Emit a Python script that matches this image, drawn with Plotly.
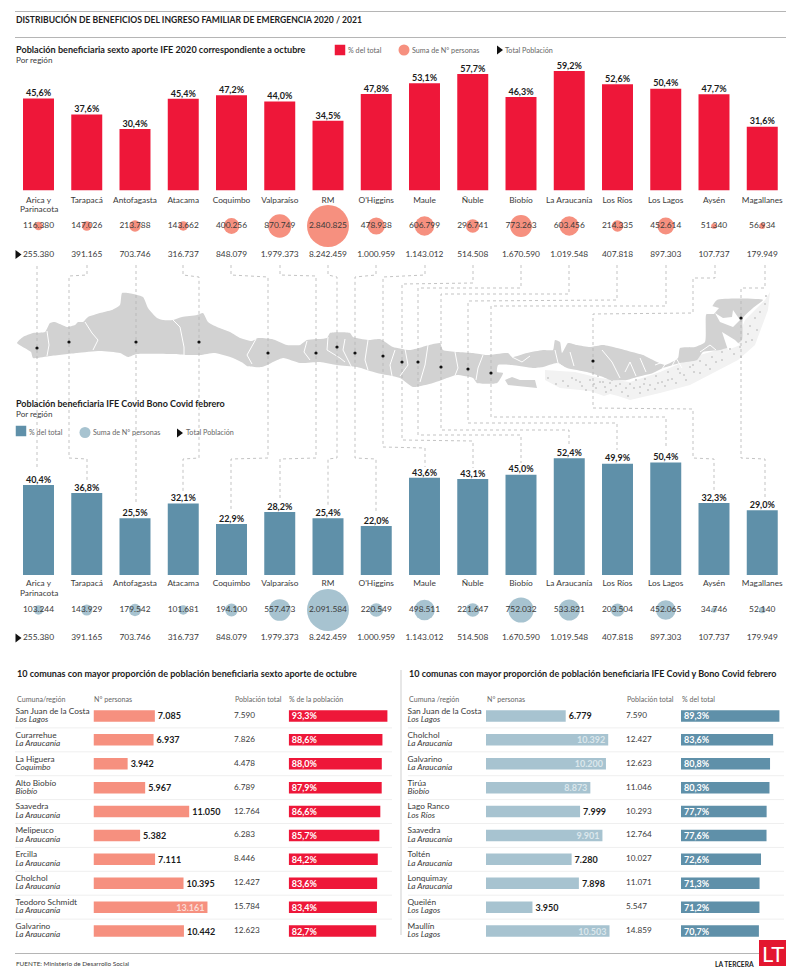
import plotly.graph_objects as go

W, H = 800, 979
# ---------- DATA ----------
regions = ["Arica y Parinacota","Tarapacá","Antofagasta","Atacama","Coquimbo","Valparaíso","RM","O'Higgins",
           "Maule","Ñuble","Biobío","La Araucanía","Los Ríos","Los Lagos","Aysén","Magallanes"]
tick_regions = ["Arica y"] + regions[1:]
total_pop = [255380,391165,703746,316737,848079,1979373,8242459,1000959,1143012,514508,1670590,1019548,407818,897303,107737,179949]
pct_ife = [45.6,37.6,30.4,45.4,47.2,44.0,34.5,47.8,53.1,57.7,46.3,59.2,52.6,50.4,47.7,31.6]
pers_ife = [116380,147026,213788,143662,400256,870749,2840825,478938,606799,296741,773263,603456,214335,452614,51340,56934]
pct_bono = [40.4,36.8,25.5,32.1,22.9,28.2,25.4,22.0,43.6,43.1,45.0,52.4,49.9,50.4,32.3,29.0]
pers_bono = [103244,143929,179542,101681,194100,557473,2091584,220549,498511,221647,752032,533821,203504,452065,34746,52140]

com_l = ["San Juan de la Costa","Curarrehue","La Higuera","Alto Biobío","Saavedra","Melipeuco","Ercilla","Cholchol","Teodoro Schmidt","Galvarino"]
reg_l = ["Los Lagos","La Araucanía","Coquimbo","Biobío","La Araucanía","La Araucanía","La Araucanía","La Araucanía","La Araucanía","La Araucanía"]
per_l = [7085,6937,3942,5967,11050,5382,7111,10395,13161,10442]
tot_l = [7590,7826,4478,6789,12764,6283,8446,12427,15784,12623]
pct_l = [93.3,88.6,88.0,87.9,86.6,85.7,84.2,83.6,83.4,82.7]

com_r = ["San Juan de la Costa","Cholchol","Galvarino","Tirúa","Lago Ranco","Saavedra","Toltén","Lonquimay","Queilén","Maullín"]
reg_r = ["Los Lagos","La Araucanía","La Araucanía","Biobío","Los Ríos","La Araucanía","La Araucanía","La Araucanía","Los Lagos","Los Lagos"]
per_r = [6779,10392,10200,8873,7999,9901,7280,7898,3950,10503]
tot_r = [7590,12427,12623,11046,10293,12764,10027,11071,5547,14859]
pct_r = [89.3,83.6,80.8,80.3,77.7,77.6,72.6,71.3,71.2,70.7]

# ---------- STYLE ----------
FONT = "Lato"
RED, SALMON, STEEL, LBLUE = "#ee1739", "#f6907f", "#5f90a9", "#a7c3d0"
INK, GREY, SOFT = "#1c1c1c", "#3a3a3a", "#666666"
ROWS = ["Suma de N° personas", "Total Población"]

def dots(v): return f"{v:,}".replace(",", ".")
def comma(v): return f"{v:.1f}".replace(".", ",") + "%"
def ydom(top, bottom): return [1 - bottom / H, 1 - top / H]
def xdom(a, b): return [a / W, b / W]

hidden = dict(visible=False, fixedrange=True)
fig = go.Figure()
shapes, notes = [], []

def txt(x, y, s, size=9, color=GREY, bold=False, italic=False, anchor="left"):
    notes.append(dict(x=x, y=y, xref="x", yref="y", text=s, showarrow=False, xanchor=anchor, yanchor="middle",
                      borderpad=0, font=dict(family=FONT, size=size, color=color,
                                             weight=700 if bold else 400, style="italic" if italic else "normal")))

# ---------- MAP (decor, page pixels) ----------
land = [(17,343),(23,337),(33,333),(45,332),(50,323),(55,322),(62,325),(67,327),(75,325),(78,322),(83,322),(88,317),
        (100,313),(112,310),(120,305),(122,293),(128,293),(143,297),(148,308),(157,318),(163,320),(173,320),(182,317),
        (197,315),(203,313),(208,322),(217,327),(230,332),(240,338),(252,341),(258,338),(272,339),(287,345),(300,345),
        (307,340),(327,338),(330,333),(350,333),(353,337),(368,340),(380,339),(393,347),(410,350),(433,344),(440,343),
        (443,350),(457,352),(473,353),(487,355),(508,353),(512,357),(527,353),(543,350),(553,350),(555,340),(560,342),
        (562,353),(568,343),(577,345),(590,347),(603,345),(617,348),(632,352),(643,355),(653,360),(665,365),(678,358),
        (680,348),(695,347),(705,342),(706,315),(710,310),(717,300),(763,300),(753,308),(743,318),(742,340),(735,345),
        (720,350),(703,352),(697,360),(680,363),(663,368),(653,373),(637,377),(627,380),(610,380),(603,377),(587,372),
        (567,368),(557,363),(543,367),(533,368),(512,365),(498,365),(497,372),(503,373),(497,383),(477,383),(473,378),
        (457,375),(450,377),(433,383),(413,387),(400,378),(377,373),(357,367),(337,365),(320,362),(300,363),(283,358),
        (262,367),(247,366),(243,363),(233,358),(215,353),(200,355),(187,355),(173,354),(137,354),(128,357),(120,353),
        (100,351),(77,353),(50,356),(33,358),(31,352),(17,343)]
chiloe = [(505,380),(512,377),(520,380),(535,380),(537,388),(520,386),(508,385),(505,380)]
band = [(545,370),(575,372),(600,378),(630,382),(660,372),(700,355),(735,345),(745,320),(765,300),(770,292),(768,310),
        (755,345),(738,360),(715,372),(690,385),(660,393),(630,400),(618,396),(610,394),(604,396),(590,391),(560,388),(545,380),(545,370)]
inlets = [[(715,313),(720,322),(733,327),(740,320),(733,310),(732,317),(723,318),(715,313)],
          [(722,332),(735,340),(740,345),(728,350),(725,341),(722,332)],
          [(706,314),(712,306),(719,308),(714,314),(706,314)]]
borders = [[(47,331),(49,345),(47,356)],[(85,322),(92,333),(98,340),(93,350)],[(173,320),(180,327),(184,347),(184,355)],
           [(256,339),(250,350),(247,355),(252,364)],[(307,341),(304,352),(310,360)],[(328,337),(327,350),(340,358),(345,362)],
           [(345,339),(343,350),(347,358),(352,368)],[(368,340),(365,360),(368,370)],[(395,350),(390,365),(392,376)],
           [(405,349),(408,365),(400,376)],[(428,345),(425,365),(420,382)],[(455,352),(458,368),(454,378)],
           [(483,355),(478,368),(476,380)],[(555,350),(558,363),(565,368)],[(602,350),(612,362),(620,378)],
           [(570,352),(574,366)],[(640,358),(646,372)],[(655,365),(668,360),(660,372)],[(700,352),(710,345),(716,350)],
           [(512,357),(522,362),(530,356)],[(625,372),(630,362),(636,376)],[(672,366),(676,358),(682,368)]]
specks = [(548,378),(556,384),(563,381),(568,386),(576,380),(582,386),(590,380),(596,388),(586,390),(594,384),(600,382),
          (605,387),(610,383),(606,392),(611,390),(612,380),(616,386),(622,392),(618,379),(626,388),(630,384),(636,380),
          (640,387),(645,379),(650,385),(656,376),(662,382),(668,372),(672,379),(678,369),(684,375),(690,367),(694,372),
          (700,361),(706,365),(712,357),(716,362),(722,352),(730,349),(734,354),(740,347),(746,342),(741,357),(748,334),
          (750,326),(755,318),(760,312),(765,304),(766,296),(757,330),(752,340),(655,389),(665,386),(676,383),(686,380),
          (640,393),(648,390),(628,396),(710,369),(722,360),(700,373),(603,382),(620,384),(634,388),(658,383),(680,373),
          (693,365),(572,378),(580,382),(598,376),(644,384),(668,380)]
fig.add_trace(go.Scatter(x=[p[0] for p in band], y=[p[1] for p in band], mode="lines", fill="toself",
                         fillcolor="#f2f2f2", line=dict(width=0), hoverinfo="skip", showlegend=False))
fig.add_trace(go.Scatter(x=[p[0] for p in land], y=[p[1] for p in land], mode="lines", fill="toself",
                         fillcolor="#d2d2d2", line=dict(width=0, shape="spline", smoothing=0.5), hoverinfo="skip", showlegend=False))
fig.add_trace(go.Scatter(x=[p[0] for p in chiloe], y=[p[1] for p in chiloe], mode="lines", fill="toself",
                         fillcolor="#d2d2d2", line=dict(width=0), hoverinfo="skip", showlegend=False))
for poly in inlets:
    fig.add_trace(go.Scatter(x=[p[0] for p in poly], y=[p[1] for p in poly], mode="lines", fill="toself",
                             fillcolor="white", line=dict(width=0), hoverinfo="skip", showlegend=False))
bx, by = [], []
for b in borders:
    bx += [p[0] for p in b] + [None]; by += [p[1] for p in b] + [None]
fig.add_trace(go.Scatter(x=bx, y=by, mode="lines", line=dict(color="white", width=1), hoverinfo="skip", showlegend=False))
fig.add_trace(go.Scatter(x=[p[0] for p in specks], y=[p[1] for p in specks], mode="markers",
                         marker=dict(symbol="square", size=2, color="#d4d4d4"), hoverinfo="skip", showlegend=False))

# connectors
conn = [[(37,266),(37,470)],
        [(87,265),(87,275),(69,276),(69,458),(87,459),(87,480)],
        [(136,265),(136,505)],
        [(183,265),(183,275),(199,277),(199,458),(183,459),(183,492)],
        [(231,265),(231,275),(268,277),(268,458),(231,459),(231,512)],
        [(280,265),(280,275),(316,276),(316,458),(280,459),(280,500)],
        [(328,265),(328,275),(337,277),(337,458),(328,459),(328,506)],
        [(376,265),(376,275),(355,277),(355,458),(376,459),(376,513)],
        [(425,265),(425,275),(383,277),(383,447),(425,448),(425,467)],
        [(473,265),(473,283),(402,284),(402,440),(473,441),(473,468)],
        [(521,265),(521,288),(418,288),(418,435),(521,435),(521,463)],
        [(569,265),(569,294),(441,294),(441,430),(569,430),(569,445)],
        [(617,265),(617,300),(468,301),(468,423),(617,423),(617,450)],
        [(666,265),(666,306),(491,306),(491,417),(666,417),(666,448)],
        [(715,265),(715,278),(693,278),(693,313),(593,314),(593,408),(693,409),(693,458),(714,459),(714,492)],
        [(765,265),(765,288),(741,288),(741,458),(765,459),(765,497)]]
cx, cy = [], []
for c in conn:
    cx += [p[0] for p in c] + [None]; cy += [p[1] for p in c] + [None]
fig.add_trace(go.Scatter(x=cx, y=cy, mode="lines", line=dict(color="#b4b4b4", width=0.8, dash="dot"),
                         hoverinfo="skip", showlegend=False))
map_dots = [(37,348),(69,342),(136,342),(199,342),(268,353),(316,353),(337,347),(355,353),(383,356),(402,362),(418,362),
            (441,367),(468,369),(491,373),(593,361),(741,318)]
fig.add_trace(go.Scatter(x=[p[0] for p in map_dots], y=[p[1] for p in map_dots], mode="markers",
                         marker=dict(size=3.2, color="#111"), hoverinfo="skip", showlegend=False))

# ---------- REGION BARS ----------
for ax, pct, col in [("2", pct_ife, RED), ("3", pct_bono, STEEL)]:
    fig.add_trace(go.Bar(x=regions, y=pct, xaxis="x" + ax, yaxis="y" + ax, marker=dict(color=col, line=dict(width=0)),
                         width=0.642, hoverinfo="skip", showlegend=False))
    fig.add_trace(go.Scatter(x=regions, y=pct, xaxis="x" + ax, yaxis="y" + ax, mode="text", text=[comma(v) for v in pct],
                             textposition="top center", cliponaxis=False,
                             textfont=dict(family=FONT, size=9, color=INK, weight=700), hoverinfo="skip", showlegend=False))

# ---------- BUBBLE AND TOTAL ROWS ----------
ROWFONT = dict(family=FONT, size=8.4, color=GREY)
for ax, yax, pers, col in [("2", "4", pers_ife, SALMON), ("3", "5", pers_bono, LBLUE)]:
    fig.add_trace(go.Scatter(x=regions, y=[ROWS[0]] * 16, xaxis="x" + ax, yaxis="y" + yax, mode="markers+text",
                             marker=dict(size=pers, sizemode="area", sizeref=2 * max(pers) / 42 ** 2, sizemin=1.5, color=col, line=dict(width=0), opacity=1),
                             text=[dots(v) for v in pers], textposition="middle center", cliponaxis=False,
                             textfont=ROWFONT, hoverinfo="skip", showlegend=False))
    fig.add_trace(go.Scatter(x=regions, y=[ROWS[1]] * 16, xaxis="x" + ax, yaxis="y" + yax, mode="text",
                             text=[dots(v) for v in total_pop], textposition="middle center", cliponaxis=False,
                             textfont=ROWFONT, hoverinfo="skip", showlegend=False))

# ---------- COMMUNE TABLES ----------
NAMEFONT = dict(family=FONT, size=8.3, color=GREY)
def table(lab_x, per_x, pct_x, yax, comunas, regs, pers, tots, pcts, c_per, c_pct, c_in, x_name, x_tot):
    fig.add_trace(go.Scatter(x=[x_name] * 10, y=comunas, xaxis=lab_x, yaxis=yax, mode="text", text=comunas,
                             textposition="top right", cliponaxis=False, textfont=NAMEFONT,
                             hoverinfo="skip", showlegend=False))
    fig.add_trace(go.Scatter(x=[x_name] * 10, y=comunas, xaxis=lab_x, yaxis=yax, mode="text", text=[f"<i>{r}</i>" for r in regs],
                             textposition="bottom right", cliponaxis=False, textfont=NAMEFONT,
                             hoverinfo="skip", showlegend=False))
    fig.add_trace(go.Scatter(x=[x_tot] * 10, y=comunas, xaxis=lab_x, yaxis=yax, mode="text", text=[dots(v) for v in tots],
                             textposition="middle right", cliponaxis=False, textfont=dict(family=FONT, size=8.2, color=GREY),
                             hoverinfo="skip", showlegend=False))
    inside = [p > c_in[1] for p in pers]
    fig.add_trace(go.Bar(x=pers, y=comunas, orientation="h", xaxis=per_x, yaxis=yax, width=0.48, marker=dict(color=c_per, line=dict(width=0)),
                         text=[dots(v) for v in pers], textposition=["inside" if i else "outside" for i in inside],
                         insidetextanchor="end", textangle=0, cliponaxis=False,
                         insidetextfont=dict(family=FONT, size=9, color=c_in[0], weight=700),
                         outsidetextfont=dict(family=FONT, size=9, color=INK, weight=700),
                         hoverinfo="skip", showlegend=False))
    fig.add_trace(go.Bar(x=pcts, y=comunas, orientation="h", xaxis=pct_x, yaxis=yax, width=0.48, marker=dict(color=c_pct, line=dict(width=0)),
                         text=[comma(v) for v in pcts], textposition="inside", insidetextanchor="start", textangle=0,
                         insidetextfont=dict(family=FONT, size=9, color="#ffffff", weight=700),
                         hoverinfo="skip", showlegend=False))

table("x4", "x5", "x6", "y6", com_l, reg_l, per_l, tot_l, pct_l, SALMON, RED, ("#fbdcd6", 12000), 15.5, 234)
table("x7", "x8", "x9", "y7", com_r, reg_r, per_r, tot_r, pct_r, LBLUE, STEEL, ("#dbe7ec", 8500), 407.5, 626)

# ---------- LEGENDS ----------
leg = dict(hoverinfo="skip", showlegend=False, mode="markers")
fig.add_trace(go.Scatter(x=[340, 21], y=[50, 431], marker=dict(symbol="square", size=10.5, color=[RED, STEEL]), **leg))
fig.add_trace(go.Scatter(x=[404, 85], y=[50, 432.5], marker=dict(size=11, color=[SALMON, LBLUE]), **leg))
fig.add_trace(go.Scatter(x=[499, 179, 17.5, 17.5], y=[50, 433, 254.5, 638], marker=dict(symbol="triangle-right", size=8, color="#111"), **leg))
for x, y, s in [(347,50,"% del total"),(411,50,"Suma de N° personas"),(504,50,"Total Población"),
                (28,432.5,"% del total"),(92,432.5,"Suma de N° personas"),(185,432.5,"Total Población")]:
    txt(x, y, s, size=7.2, color=SOFT)

# ---------- TITLES AND TEXT ----------
txt(15, 19.5, "DISTRIBUCIÓN DE BENEFICIOS DEL INGRESO FAMILIAR DE EMERGENCIA 2020 / 2021", size=8.6, color=INK, bold=True)
txt(15, 49.5, "Población beneficiaria sexto aporte IFE 2020 correspondiente a octubre", size=9.1, color=INK, bold=True)
txt(15, 60, "Por región", size=8.1)
txt(15, 403.5, "Población beneficiaria IFE Covid Bono Covid febrero", size=9, color=INK, bold=True)
txt(15, 414, "Por región", size=8.1)
txt(38.5, 209, "Parinacota", size=8.3, anchor="center")
txt(38.5, 592.5, "Parinacota", size=8.3, anchor="center")
txt(16, 673, "10 comunas con mayor proporción de población beneficiaria sexto aporte de octubre", size=9.05, color=INK, bold=True)
txt(408, 673, "10 comunas con mayor proporción de población beneficiaria IFE Covid y Bono Covid febrero", size=9, color=INK, bold=True)
for x, s in [(16,"Cumuna/región"),(93,"N° personas"),(234,"Población total"),(288,"% de la población"),
             (408,"Cumuna /región"),(486,"N° personas"),(626,"Población total"),(681,"% del total")]:
    txt(x, 699, s, size=7.1, color=SOFT)
txt(15, 963.5, "FUENTE: Ministerio de Desarrollo Social", size=6.4)
txt(755, 964, "LA TERCERA", size=6.7, color=INK, bold=True, anchor="right")
txt(772.5, 953, "LT", size=22, color="white", anchor="center")

def line(x0, y0, x1, y1, color="#b5b5b5", width=1):
    shapes.append(dict(type="line", xref="x", yref="y", x0=x0, y0=y0, x1=x1, y1=y1, line=dict(color=color, width=width), layer="below"))
line(15, 11.5, 786, 11.5); line(15, 37.5, 786, 37.5); line(15, 953.5, 760, 953.5)
line(401, 670, 401, 935, color="#cfcfcf")
for i in range(1, 10):
    y = 704 + 23.9 * i
    line(15, y, 392, y, color="#efefef"); line(408, y, 784, y, color="#efefef")
shapes.append(dict(type="rect", xref="x", yref="y", x0=759, x1=786, y0=940, y1=966, fillcolor="#e3162f", line=dict(width=0), layer="below"))

# ---------- AXES ----------
rng = [-38.5 / 48.25, (W - 38.5) / 48.25]
TICKFONT = dict(family=FONT, size=8.3, color=GREY)
def region_x(anchor, ticklen):
    return dict(domain=[0, 1], range=rng, type="category", categoryorder="array", categoryarray=regions, anchor=anchor,
                tickmode="array", tickvals=regions, ticktext=tick_regions, tickfont=TICKFONT, ticks="outside", ticklen=ticklen,
                tickcolor="rgba(0,0,0,0)", showgrid=False, showline=False, zeroline=False, fixedrange=True, tickangle=0)
def value_y(top, bottom, px_per, anchor):
    return dict(domain=ydom(top, bottom), range=[0, (bottom - top) / px_per], anchor=anchor, **hidden)
def row_y(center1, step, anchor):
    return dict(domain=ydom(center1 - step / 2, center1 + step * 1.5), range=[1.5, -0.5], type="category",
                categoryorder="array", categoryarray=ROWS, anchor=anchor, **hidden)
def com_y(names, anchor):
    return dict(domain=ydom(704, 943), range=[9.5, -0.5], type="category", categoryorder="array", categoryarray=names,
                anchor=anchor, **hidden)
def bar_x(a, b, px_per, anchor):
    return dict(domain=xdom(a, b), range=[0, (b - a) / px_per], anchor=anchor, **hidden)

fig.update_layout(
    width=W, height=H, margin=dict(l=0, r=0, t=0, b=0, pad=0), autosize=False,
    paper_bgcolor="white", plot_bgcolor="rgba(0,0,0,0)", barmode="overlay", showlegend=False,
    font=dict(family=FONT, color=GREY), uniformtext=dict(mode="show", minsize=9),
    xaxis=dict(domain=[0, 1], range=[0, W], **hidden), yaxis=dict(domain=[0, 1], range=[H, 0], **hidden),
    xaxis2=region_x("y2", 2), yaxis2=value_y(60, 190.5, 2.02, "x2"),
    xaxis3=region_x("y3", 0.5), yaxis3=value_y(440, 575, 2.23, "x3"),
    yaxis4=row_y(226, 28.5, "x2"), yaxis5=row_y(610, 28, "x3"),
    xaxis4=dict(domain=[0, 0.5], range=[0, 400], anchor="y6", **hidden),
    xaxis5=bar_x(93.5, 260, 8.66 / 1000, "y6"), xaxis6=bar_x(288.7, 395, 1.058, "y6"),
    yaxis6=com_y(com_l, "x4"),
    xaxis7=dict(domain=[0.5, 1], range=[400, 800], anchor="y7", **hidden),
    xaxis8=bar_x(486, 625, 11.76 / 1000, "y7"), xaxis9=bar_x(681, 790, 1.102, "y7"),
    yaxis7=com_y(com_r, "x7"),
    shapes=shapes, annotations=notes,
)
fig.write_html("out.html", config={"displayModeBar": False}, post_script="document.body.style.margin='0';")
